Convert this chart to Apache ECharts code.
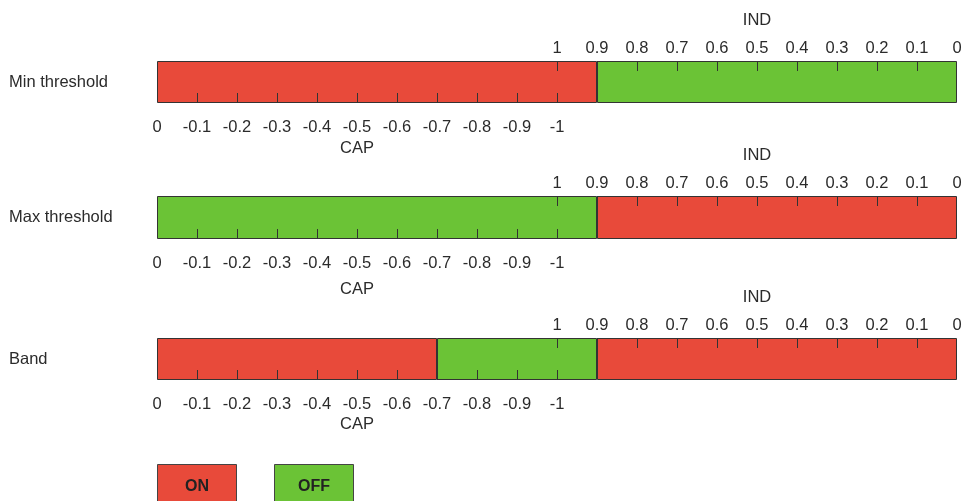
<!DOCTYPE html>
<html>
<head>
<meta charset="utf-8">
<script src="https://cdn.jsdelivr.net/npm/echarts@6/dist/echarts.min.js"></script>
<style>
  html, body { margin: 0; padding: 0; background: #fff; }
  #main { width: 966px; height: 501px; }
</style>
</head>
<body>
<div id="main"></div>
<script>
// row names
var rowNames = ['Min threshold', 'Max threshold', 'Band'];
// tick labels of the two scales
var capTicks = [0, -0.1, -0.2, -0.3, -0.4, -0.5, -0.6, -0.7, -0.8, -0.9, -1];
var indTicks = [1, 0.9, 0.8, 0.7, 0.6, 0.5, 0.4, 0.3, 0.2, 0.1, 0];
// segments of each bar, read from the CAP 0 end (lengths in CAP units)
var minSegments = [-1.1, -0.9];
var minStates = ['ON', 'OFF'];
var maxSegments = [-1.1, -0.9];
var maxStates = ['OFF', 'ON'];
var bandSegments = [-0.7, -0.4, -0.9];
var bandStates = ['ON', 'OFF', 'ON'];
var legendStates = ['ON', 'OFF'];

var colors = { ON: '#E84A3A', OFF: '#6BC336' };
var font = 'Liberation Sans, Arial, sans-serif';
var textColor = '#2b2b2b';
var fs = 16.5;

var allSegments = [minSegments, maxSegments, bandSegments];
var allStates = [minStates, maxStates, bandStates];
var gridTops = [61, 196, 338];
var gridHeights = [42, 43, 42];
var capGaps = [37, 42, 36];
var rowLabelPad = [7, 9, 7];

var grids = [], xAxes = [], yAxes = [], series = [];
rowNames.forEach(function (name, i) {
    grids.push({
        left: 157, width: 800, top: gridTops[i], height: gridHeights[i],
        outerBoundsMode: 'none'
    });
    // bottom scale: CAP
    xAxes.push({
        type: 'value', gridIndex: i, position: 'bottom',
        min: -2, max: 0, inverse: true, z: 10,
        splitLine: { show: false },
        axisLine: { show: false },
        axisTick: {
            show: true, inside: true, length: 10,
            customValues: capTicks.slice(1),
            lineStyle: { color: '#333', width: 1 }
        },
        axisLabel: {
            customValues: capTicks, margin: 16,
            fontSize: fs, fontFamily: font, color: textColor,
            formatter: function (v) { return String(v); }
        },
        name: 'CAP', nameLocation: 'middle', nameGap: capGaps[i],
        nameMoveOverlap: false,
        nameTextStyle: { fontSize: fs, fontFamily: font, color: textColor, padding: [0, 400, 0, 0] }
    });
    // top scale: IND
    xAxes.push({
        type: 'value', gridIndex: i, position: 'top',
        min: 0, max: 2, inverse: true, z: 10,
        splitLine: { show: false },
        axisLine: { show: false },
        axisTick: {
            show: true, inside: true, length: 10,
            customValues: indTicks.slice(0, 10),
            lineStyle: { color: '#333', width: 1 }
        },
        axisLabel: {
            customValues: indTicks, margin: 4,
            fontSize: fs, fontFamily: font, color: textColor,
            formatter: function (v) { return String(v); }
        },
        name: 'IND', nameLocation: 'middle', nameGap: 32,
        nameMoveOverlap: false,
        nameTextStyle: { fontSize: fs, fontFamily: font, color: textColor, padding: [0, 0, 0, 400] }
    });
    yAxes.push({
        type: 'category', gridIndex: i, data: [name],
        axisLine: { show: false },
        axisTick: { show: false },
        axisLabel: {
            align: 'left', margin: 148, padding: [rowLabelPad[i], 0, 0, 0],
            fontSize: fs, fontFamily: font, color: textColor
        }
    });
    allSegments[i].forEach(function (v, j) {
        var state = allStates[i][j];
        series.push({
            type: 'bar', name: state,
            xAxisIndex: i * 2, yAxisIndex: i,
            stack: 'row' + i,
            barWidth: '100%',
            barCategoryGap: 0,
            itemStyle: { color: colors[state], borderColor: '#333', borderWidth: 1 },
            emphasis: { disabled: true },
            data: [v]
        });
    });
});

// ON / OFF key
var keyGraphics = [];
legendStates.forEach(function (s, k) {
    var x = 157 + k * 117;
    keyGraphics.push({
        type: 'rect', left: x, top: 464,
        shape: { width: 79, height: 45 },
        style: { fill: colors[s], stroke: '#444', lineWidth: 1 }
    });
    keyGraphics.push({
        type: 'text', x: x + 40, y: 487,
        style: {
            text: s, fill: '#222', font: 'bold 16px ' + font,
            textAlign: 'center', textVerticalAlign: 'middle'
        }
    });
});

var myChart = echarts.init(document.getElementById('main'));
var option = {
    backgroundColor: '#fff',
    animation: false,
    grid: grids,
    xAxis: xAxes,
    yAxis: yAxes,
    series: series,
    graphic: keyGraphics
};
myChart.setOption(option);
</script>
</body>
</html>
